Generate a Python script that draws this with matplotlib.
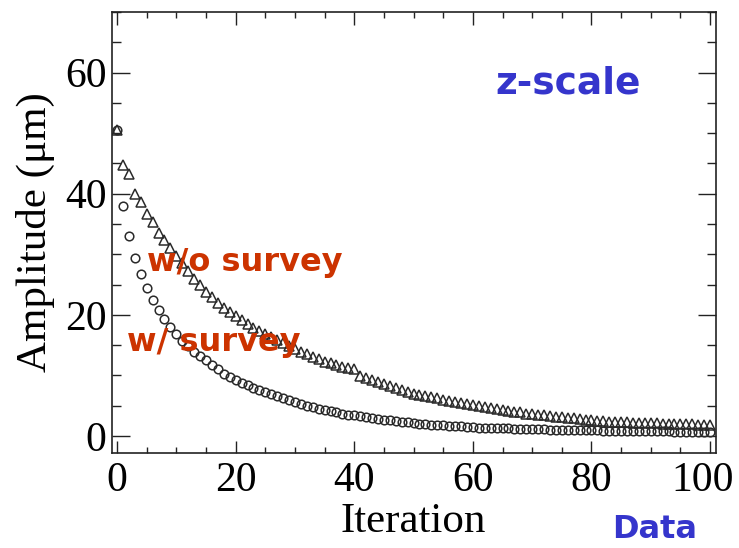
import matplotlib
matplotlib.use("Agg")
import matplotlib.pyplot as plt
from matplotlib.ticker import MultipleLocator
from matplotlib.transforms import ScaledTranslation

iterations = list(range(101))

wo_survey = [50.5, 44.7, 43.2, 40.0, 38.6, 36.6, 35.3, 33.6, 32.3, 31.0,
             29.8, 28.5, 27.3, 26.0, 24.9, 23.8, 22.9, 22.0, 21.2, 20.5,
             19.8, 19.1, 18.5, 17.9, 17.3, 16.8, 16.3, 15.8, 15.3, 14.8,
             14.4, 13.9, 13.5, 13.1, 12.7, 12.3, 12.0, 11.7, 11.4, 11.2,
             11.0, 9.9, 9.5, 9.2, 8.9, 8.6, 8.2, 7.9, 7.6, 7.3,
             7.0, 6.8, 6.6, 6.4, 6.2, 6.0, 5.8, 5.6, 5.5, 5.3,
             5.2, 5.0, 4.8, 4.6, 4.5, 4.3, 4.2, 4.0, 3.9, 3.7,
             3.6, 3.5, 3.4, 3.3, 3.2, 3.1, 3.0, 2.9, 2.8, 2.7,
             2.6, 2.55, 2.5, 2.4, 2.35, 2.3, 2.25, 2.2, 2.2, 2.15,
             2.1, 2.1, 2.05, 2.0, 2.0, 2.0, 1.95, 1.95, 1.9, 1.9,
             1.9]

w_survey = [50.5, 38.0, 33.1, 29.4, 26.8, 24.5, 22.5, 20.8, 19.3, 18.0,
            16.8, 15.7, 14.8, 13.9, 13.2, 12.5, 11.7, 11.0, 10.3, 9.7,
            9.2, 8.8, 8.4, 8.0, 7.6, 7.2, 6.9, 6.6, 6.3, 5.9,
            5.6, 5.3, 5.0, 4.8, 4.5, 4.3, 4.1, 3.9, 3.7, 3.55,
            3.4, 3.25, 3.1, 2.95, 2.8, 2.7, 2.6, 2.45, 2.35, 2.25,
            2.15, 2.05, 2.0, 1.9, 1.85, 1.8, 1.7, 1.65, 1.6, 1.5,
            1.45, 1.4, 1.38, 1.35, 1.3, 1.28, 1.25, 1.2, 1.18, 1.15,
            1.12, 1.1, 1.08, 1.05, 1.03, 1.0, 1.0, 0.98, 0.96, 0.95,
            0.93, 0.92, 0.9, 0.9, 0.88, 0.87, 0.85, 0.84, 0.82, 0.8,
            0.8, 0.78, 0.76, 0.75, 0.73, 0.72, 0.7, 0.68, 0.66, 0.64,
            0.62]

x_ticks = [0, 20, 40, 60, 80, 100]
y_ticks = [0, 20, 40, 60]

W, H = 739, 548
fig = plt.figure(figsize=(W / 100, H / 100), dpi=100)
ax = fig.add_axes([112 / W, 1 - 453 / H, (716 - 112) / W, (453 - 12) / H])

ax.plot(iterations, wo_survey, linestyle="none", marker="^", ms=7.2,
        mfc="none", mec="#2a2a2a", mew=1.1)
ax.plot(iterations, w_survey, linestyle="none", marker="o", ms=6.2,
        mfc="none", mec="#2a2a2a", mew=1.1)

ax.set_xlim(-0.85, 101)
ax.set_ylim(-2.8, 70)
ax.set_xticks(x_ticks)
ax.set_yticks(y_ticks)
ax.xaxis.set_minor_locator(MultipleLocator(5))
ax.yaxis.set_minor_locator(MultipleLocator(5))

serif = ["Liberation Serif", "DejaVu Serif"]
ax.tick_params(axis="both", which="both", direction="in", top=True, right=True,
               width=1.0, color="#222222")
ax.tick_params(axis="x", which="major", length=9, pad=6, labelsize=30)
ax.tick_params(axis="x", which="minor", length=4.5)
ax.tick_params(axis="y", which="major", length=13, pad=4, labelsize=30)
ax.tick_params(axis="y", which="minor", length=6.5)
for lab in ax.get_xticklabels() + ax.get_yticklabels():
    lab.set_fontfamily(serif)
last = ax.get_xticklabels()[-1]
last.set_transform(last.get_transform() + ScaledTranslation(-0.07, 0, fig.dpi_scale_trans))
for sp in ax.spines.values():
    sp.set_linewidth(1.2)
    sp.set_color("#222222")

fig.text(35 / W, 1 - 232 / H, "Amplitude (\u03bcm)", rotation=90, ha="center",
         va="center", fontsize=31, family=serif)
fig.text(413 / W, 1 - 522 / H, "Iteration", ha="center", va="center",
         fontsize=31, family=serif)

orange = "#cc3300"
blue = "#3535cc"
fig.text(495 / W, 1 - 84 / H, "z-scale", ha="left", va="center", fontsize=27,
         fontweight="bold", color=blue, family="DejaVu Sans")
fig.text(147 / W, 1 - 263 / H, "w/o survey", ha="left", va="center", fontsize=23,
         fontweight="bold", color=orange, family="DejaVu Sans")
fig.text(127 / W, 1 - 343 / H, "w/ survey", ha="left", va="center", fontsize=23,
         fontweight="bold", color=orange, family="DejaVu Sans")
fig.text(612 / W, 1 - 530 / H, "Data", ha="left", va="center", fontsize=23,
         fontweight="bold", color=blue, family="DejaVu Sans")

fig.savefig("out.png", dpi=100)
